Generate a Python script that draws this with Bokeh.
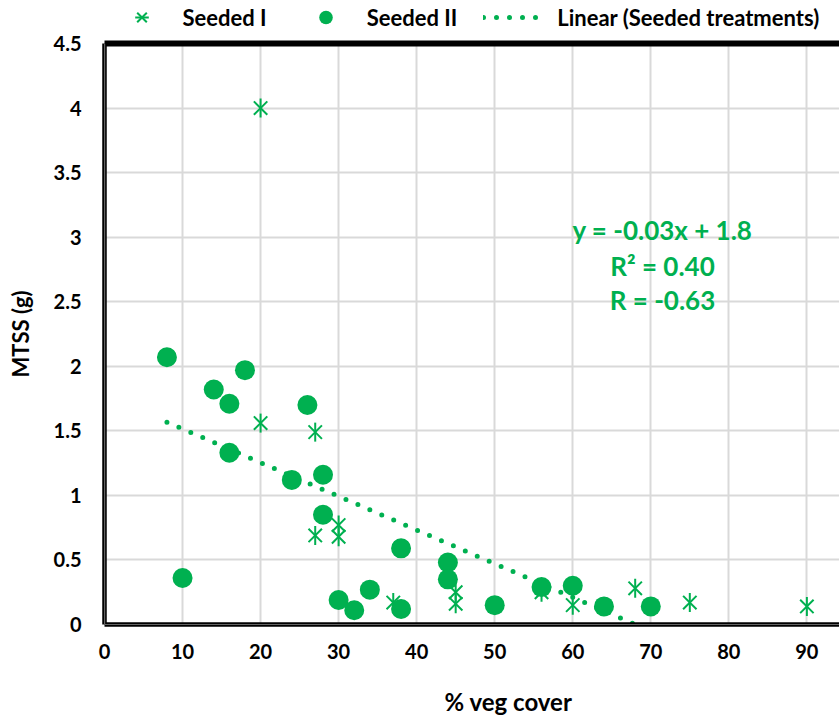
import numpy as np
from bokeh.plotting import figure
from bokeh.layouts import column
from bokeh.models import Range1d, FixedTicker, LinearAxis, Span, Label, Legend, LegendItem
from bokeh.embed import file_html
from bokeh.resources import INLINE

# ---- data ----
seeded1_x = [20, 20, 27, 27, 30, 30, 37, 45, 45, 56, 60, 68, 75, 90]
seeded1_y = [4.0, 1.56, 1.49, 0.69, 0.77, 0.68, 0.17, 0.25, 0.16, 0.25, 0.15, 0.28, 0.17, 0.14]

seeded2_x = [8, 10, 14, 16, 16, 18, 24, 26, 28, 28, 30, 32, 34, 38, 38, 44, 44, 50, 56, 60, 64, 70]
seeded2_y = [2.07, 0.36, 1.82, 1.71, 1.33, 1.97, 1.12, 1.70, 1.16, 0.85, 0.19, 0.11, 0.27, 0.59,
             0.12, 0.48, 0.35, 0.15, 0.29, 0.30, 0.14, 0.14]

trend_slope = -0.0261
trend_intercept = 1.776
trend_x = [8, 90]
trend_y = [trend_intercept + trend_slope * v for v in trend_x]

x_ticks = [0, 10, 20, 30, 40, 50, 60, 70, 80, 90]
x_tick_labels = ["0", "10", "20", "30", "40", "50", "60", "70", "80", "90"]
y_ticks = [0, 0.5, 1, 1.5, 2, 2.5, 3, 3.5, 4, 4.5]
y_tick_labels = ["0", "0.5", "1", "1.5", "2", "2.5", "3", "3.5", "4", "4.5"]

series_labels = ["Seeded I", "Seeded II", "Linear (Seeded treatments)"]
eq_lines = ["y = -0.03x + 1.8", "R\u00b2 = 0.40", "R = -0.63"]
x_title = "% veg cover"
y_title = "MTSS (g)"

GREEN = "#00B050"
FONT = "Lato"
W = 839
LEFT = 104     # common left border of all strips (column aligns frames)
LEG_H = 31     # legend strip height
BOT_H = 49     # x-title strip height
MAIN_H = 719 - LEG_H - BOT_H


def bare(fig):
    fig.outline_line_color = None
    fig.grid.visible = False
    fig.background_fill_color = "white"
    fig.border_fill_color = "white"


# ---------------- main chart ----------------
p = figure(width=W, height=MAIN_H, output_backend="svg", toolbar_location=None,
           x_range=Range1d(0, 94.18), y_range=Range1d(0, 4.5),
           min_border_left=LEFT, min_border_right=0, min_border_top=43 - LEG_H,
           min_border_bottom=95 - BOT_H)
p.outline_line_color = None
p.background_fill_color = "white"
p.border_fill_color = "white"

xa = p.below[0]
ya = p.left[0]
xa.ticker = FixedTicker(ticks=x_ticks)
xa.major_label_overrides = {float(t): l for t, l in zip(x_ticks, x_tick_labels)}
ya.ticker = FixedTicker(ticks=y_ticks)
ya.major_label_overrides = {float(t): l for t, l in zip(y_ticks, y_tick_labels)}
for ax in (xa, ya):
    ax.axis_line_color = "black"
    ax.axis_line_width = 4.5
    ax.major_tick_line_color = None
    ax.minor_tick_line_color = None
    ax.major_tick_out = 0
    ax.major_tick_in = 0
    ax.major_label_text_font = FONT
    ax.major_label_text_font_style = "bold"
    ax.major_label_text_font_size = "20px"
    ax.major_label_text_color = "black"
xa.major_label_standoff = 19
ya.major_label_standoff = 23
ya.axis_label = y_title
ya.axis_label_text_font = FONT
ya.axis_label_text_font_style = "bold"
ya.axis_label_text_font_size = "22px"
ya.axis_label_text_color = "black"
ya.axis_label_standoff = 17

top_axis = LinearAxis(ticker=FixedTicker(ticks=[]), axis_line_color="black", axis_line_width=6,
                      major_tick_line_color=None, minor_tick_line_color=None,
                      major_tick_out=0, major_tick_in=0, major_label_standoff=0,
                      major_label_text_font_size="0px")
p.add_layout(top_axis, "above")

p.xgrid.ticker = FixedTicker(ticks=x_ticks)
p.ygrid.ticker = FixedTicker(ticks=y_ticks)
for g in (p.xgrid, p.ygrid):
    g.grid_line_color = "#D9D9D9"
    g.grid_line_width = 2

p.add_layout(Span(location=0, dimension="height", line_color="#c8c8c8", line_width=1.2))
p.add_layout(Span(location=0, dimension="width", line_color="#c8c8c8", line_width=1.2))

p.scatter(seeded1_x, seeded1_y, marker="x", size=19, line_color=GREEN, line_width=2)
p.scatter(seeded1_x, seeded1_y, marker="dash", angle=np.pi / 2, size=19,
          line_color=GREEN, line_width=2)
p.scatter(seeded2_x, seeded2_y, marker="circle", size=20, fill_color=GREEN, line_color=None)
p.line(trend_x, trend_y, line_color=GREEN, line_width=5, line_dash="0 13", line_cap="round")

eq_x = 71.5
eq_y = [3.053, 2.78, 2.51]
for txt, yy in zip(eq_lines, eq_y):
    p.add_layout(Label(x=eq_x, y=yy, text=txt, text_align="center", text_baseline="middle",
                       text_font=FONT, text_font_style="bold", text_font_size="26px",
                       text_color=GREEN))

# ---------------- legend strip above the chart ----------------
# the legend samples come from the real series, drawn off-range so only the legend shows them
lg = figure(width=W, height=LEG_H, output_backend="svg", toolbar_location=None,
            x_range=Range1d(-2, -1), y_range=Range1d(-2, -1),
            min_border_left=LEFT, min_border_right=0, min_border_top=0, min_border_bottom=0,
            x_axis_type=None, y_axis_type=None)
bare(lg)
l1a = lg.scatter(seeded1_x, seeded1_y, marker="x", size=19, line_color=GREEN, line_width=2)
l1b = lg.scatter(seeded1_x, seeded1_y, marker="dash", angle=np.pi / 2, size=19,
                 line_color=GREEN, line_width=2)
l2 = lg.scatter(seeded2_x, seeded2_y, marker="circle", size=20, fill_color=GREEN, line_color=None)
l3 = lg.line(trend_x, trend_y, line_color=GREEN, line_width=5, line_dash="0 13", line_cap="round")

legend = Legend(items=[LegendItem(label=series_labels[0], renderers=[l1a, l1b]),
                       LegendItem(label=series_labels[1], renderers=[l2]),
                       LegendItem(label=series_labels[2], renderers=[l3])],
                orientation="horizontal", location=(4.5, -3),
                glyph_width=65, glyph_height=34, label_standoff=9, spacing=26,
                padding=0, margin=0, border_line_color=None, background_fill_alpha=0,
                label_text_font=FONT, label_text_font_style="bold", label_text_font_size="22px",
                label_text_color="black")
lg.add_layout(legend, "center")

# ---------------- x-axis title strip below the chart ----------------
bt = figure(width=W, height=BOT_H, output_backend="svg", toolbar_location=None,
            x_range=Range1d(LEFT, W), y_range=Range1d(0, BOT_H),
            min_border_left=LEFT, min_border_right=0, min_border_top=0, min_border_bottom=0,
            x_axis_type=None, y_axis_type=None)
bare(bt)
bt.add_layout(Label(x=508, y=18, text=x_title, text_align="center", text_baseline="middle",
                    text_font=FONT, text_font_style="bold", text_font_size="24px",
                    text_color="black"))

open("out.html", "w").write(file_html(column(lg, p, bt, spacing=0), INLINE))
